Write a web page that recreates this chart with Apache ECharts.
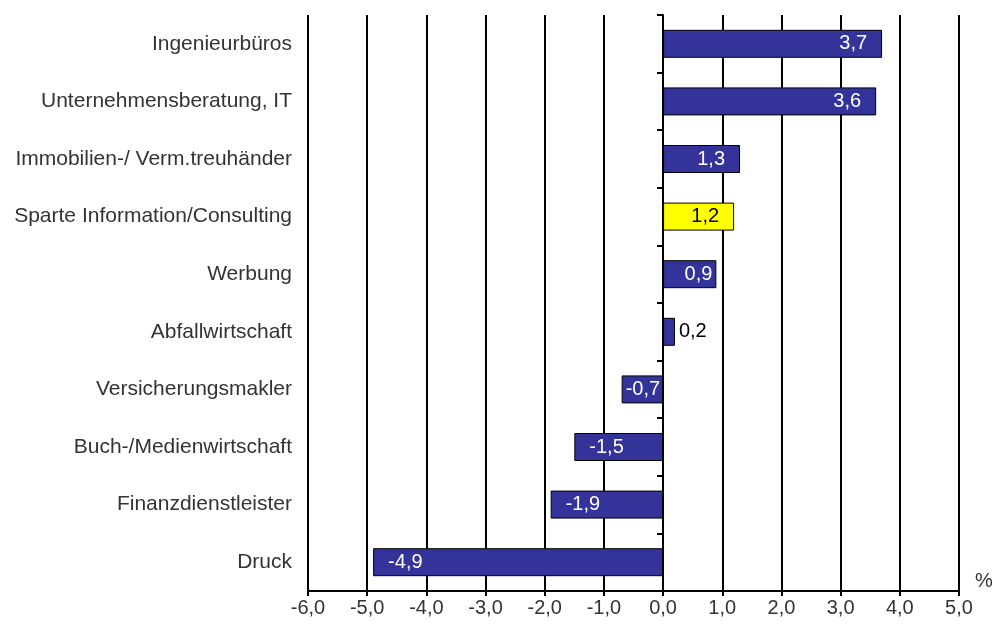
<!DOCTYPE html>
<html>
<head>
<meta charset="utf-8">
<script src="https://cdn.jsdelivr.net/npm/echarts@6/dist/echarts.min.js"></script>
<style>
  html, body { margin: 0; padding: 0; background: #fff; }
  #chart { width: 994px; height: 627px; }
</style>
</head>
<body>
<div id="chart"></div>
<script>
var branchen = ['Ingenieurbüros', 'Unternehmensberatung, IT', 'Immobilien-/ Verm.treuhänder',
  'Sparte Information/Consulting', 'Werbung', 'Abfallwirtschaft', 'Versicherungsmakler',
  'Buch-/Medienwirtschaft', 'Finanzdienstleister', 'Druck']
var werte = [3.7, 3.6, 1.3, 1.2, 0.9, 0.2, -0.7, -1.5, -1.9, -4.9]
var hervorgehoben = 'Sparte Information/Consulting'

var fmt = function (v) { return v.toFixed(1).replace('.', ',') }

var chart = echarts.init(document.getElementById('chart'))

var barData = werte.map(function (v, i) {
  var item = {
    value: v,
    itemStyle: { color: branchen[i] === hervorgehoben ? '#ffff00' : '#333399' },
    label: {
      position: v >= 0 ? 'insideRight' : 'insideLeft',
      color: branchen[i] === hervorgehoben ? '#000' : '#fff'
    }
  }
  if (Math.abs(v) < 0.5) {
    item.label = { position: 'right', color: '#000', distance: 4 }
  } else if (Math.abs(v) < 1) {
    item.label.distance = 4
  }
  return item
})

var option = {
  animation: false,
  grid: { left: 308, right: 35, top: 15, bottom: 36 },
  xAxis: {
    type: 'value',
    min: -6,
    max: 5,
    interval: 1,
    axisLine: { show: true, onZero: false, lineStyle: { color: '#000', width: 2 } },
    axisTick: { show: true, length: 5, lineStyle: { color: '#000', width: 2 } },
    axisLabel: {
      formatter: fmt,
      color: '#333',
      fontFamily: 'Liberation Sans',
      fontSize: 20,
      margin: 7
    },
    splitLine: { show: true, lineStyle: { color: '#000', width: 2 } }
  },
  yAxis: [
    {
      type: 'category',
      data: branchen,
      inverse: true,
      axisLine: { show: false },
      axisTick: { show: false },
      axisLabel: {
        color: '#333',
        fontFamily: 'Liberation Sans',
        fontSize: 21,
        margin: 16
      }
    },
    {
      type: 'category',
      data: branchen,
      inverse: true,
      position: 'left',
      offset: -355,
      axisLine: { show: true, lineStyle: { color: '#000', width: 2 } },
      axisTick: { show: true, length: 6, lineStyle: { color: '#000', width: 2 } },
      axisLabel: { show: false }
    }
  ],
  graphic: [
    {
      type: 'text',
      left: 975,
      top: 571,
      style: { text: '%', fill: '#333', font: '20px "Liberation Sans"' }
    }
  ],
  series: [
    {
      type: 'bar',
      yAxisIndex: 0,
      data: barData,
      barWidth: 28,
      itemStyle: { borderColor: '#000', borderWidth: 1 },
      label: {
        show: true,
        distance: 15,
        fontFamily: 'Liberation Sans',
        fontSize: 20,
        formatter: function (p) { return fmt(p.value) }
      }
    }
  ]
}

chart.setOption(option)
</script>
</body>
</html>
